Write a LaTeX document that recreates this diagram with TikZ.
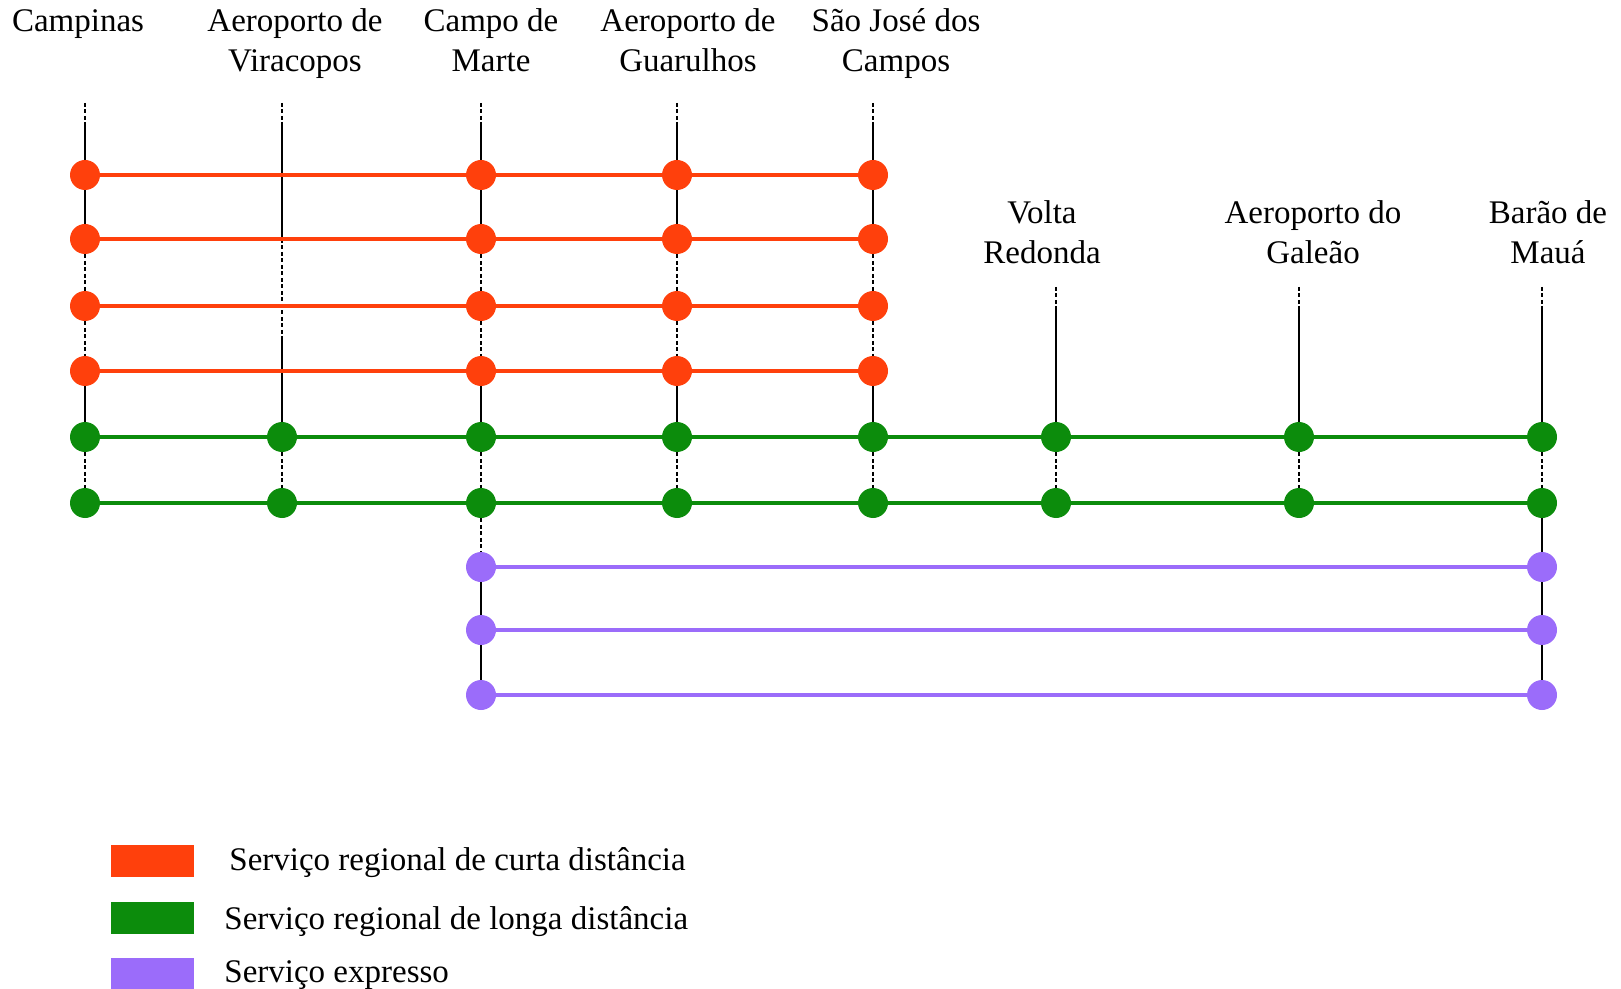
\documentclass[tikz,border=0pt]{standalone}
\usepackage{fontspec}
\setmainfont{Liberation Serif}
\usetikzlibrary{backgrounds}

\definecolor{shortred}{RGB}{255,64,12}
\definecolor{longgreen}{RGB}{12,140,12}
\definecolor{exprpurple}{RGB}{155,108,250}

\begin{document}
\begin{tikzpicture}[x=0.5pt,y=-0.5pt,
  stop/.style={circle,inner sep=0pt,minimum size=15pt,fill=#1},
  service/.style={draw=#1,line width=2pt},
  track/.style={draw=black,line width=1.2pt},
  gap/.style={track,dash pattern=on 2pt off 1.25pt},
  place/.style={font=\fontsize{16.5}{20}\selectfont,align=center,anchor=base,inner sep=0pt},
  legendtext/.style={font=\fontsize{16.5}{20}\selectfont,anchor=base west,inner sep=0pt},
  swatch/.style={fill=#1,draw=none,inner sep=0pt,minimum width=41.5pt,minimum height=16pt}]
\useasboundingbox (0,0) rectangle (1621,989);

% station names (anchored at the baseline of their last line)
\node[place] (l-ca) at (78,32) {Campinas};
\node[place] (l-vi) at (295,72) {Aeroporto de\\Viracopos};
\node[place] (l-cm) at (491,72) {Campo de\\Marte};
\node[place] (l-gu) at (688,72) {Aeroporto de\\Guarulhos};
\node[place] (l-sj) at (896,72) {São José dos\\Campos};
\node[place] (l-vr) at (1042,264) {Volta\\Redonda};
\node[place] (l-ga) at (1313,264) {Aeroporto do\\Galeão};
\node[place] (l-bm) at (1548,264) {Barão de\\Mauá};

% short-distance regional service: four rows
\foreach \r/\y in {1/175,2/239,3/306,4/371}
  \foreach \s/\x in {ca/85,cm/481,gu/677,sj/873}
    \node[stop=shortred] (r\r-\s) at (\x,\y) {};

% long-distance regional service: two rows
\foreach \r/\y in {1/437,2/503}
  \foreach \s/\x in {ca/85,vi/282,cm/481,gu/677,sj/873,vr/1056,ga/1299,bm/1542}
    \node[stop=longgreen] (g\r-\s) at (\x,\y) {};

% express service: three rows
\foreach \r/\y in {1/567,2/630,3/695}
  \foreach \s/\x in {cm/481,bm/1542}
    \node[stop=exprpurple] (p\r-\s) at (\x,\y) {};

% loose ends of the station tracks
\foreach \s/\x in {ca/85,vi/282,cm/481,gu/677,sj/873} {
  \coordinate (t-\s) at (\x,103);
  \coordinate (k-\s) at (\x,122);
}
\foreach \s/\x in {vr/1056,ga/1299,bm/1542} {
  \coordinate (t-\s) at (\x,287);
  \coordinate (k-\s) at (\x,306);
}
\coordinate (x-vi) at (282,239);
\coordinate (m-vi) at (282,337);

\begin{scope}[on background layer]
  % station tracks
  \foreach \s in {ca,cm,gu,sj} {
    \draw[gap] (t-\s) -- (k-\s);
    \draw[track] (k-\s) -- (r1-\s) -- (r2-\s);
    \draw[gap] (r2-\s) -- (r3-\s) -- (r4-\s);
    \draw[track] (r4-\s) -- (g1-\s);
    \draw[gap] (g1-\s) -- (g2-\s);
  }
  \draw[gap] (t-vi) -- (k-vi);
  \draw[track] (k-vi) -- (x-vi);
  \draw[gap] (x-vi) -- (m-vi);
  \draw[track] (m-vi) -- (g1-vi);
  \draw[gap] (g1-vi) -- (g2-vi);
  \foreach \s in {vr,ga,bm} {
    \draw[gap] (t-\s) -- (k-\s);
    \draw[track] (k-\s) -- (g1-\s);
    \draw[gap] (g1-\s) -- (g2-\s);
  }
  \draw[gap] (g2-cm) -- (p1-cm);
  \draw[track] (p1-cm) -- (p2-cm) -- (p3-cm);
  \draw[track] (g2-bm) -- (p1-bm) -- (p2-bm) -- (p3-bm);

  % service lines
  \foreach \r in {1,...,4}
    \draw[service=shortred] (r\r-ca) -- (r\r-cm) -- (r\r-gu) -- (r\r-sj);
  \foreach \r in {1,2}
    \draw[service=longgreen] (g\r-ca) -- (g\r-vi) -- (g\r-cm) -- (g\r-gu)
      -- (g\r-sj) -- (g\r-vr) -- (g\r-ga) -- (g\r-bm);
  \foreach \r in {1,2,3}
    \draw[service=exprpurple] (p\r-cm) -- (p\r-bm);
\end{scope}

% legend
\node[swatch=shortred] (key-short) at (152,861) {};
\node[swatch=longgreen] (key-long) at (152,917.5) {};
\node[swatch=exprpurple] (key-expr) at (152,974) {};
\node[legendtext] (txt-short) at (229,870) {Serviço regional de curta distância};
\node[legendtext] (txt-long) at (224,929) {Serviço regional de longa distância};
\node[legendtext] (txt-expr) at (224,982) {Serviço expresso};
\end{tikzpicture}
\end{document}
